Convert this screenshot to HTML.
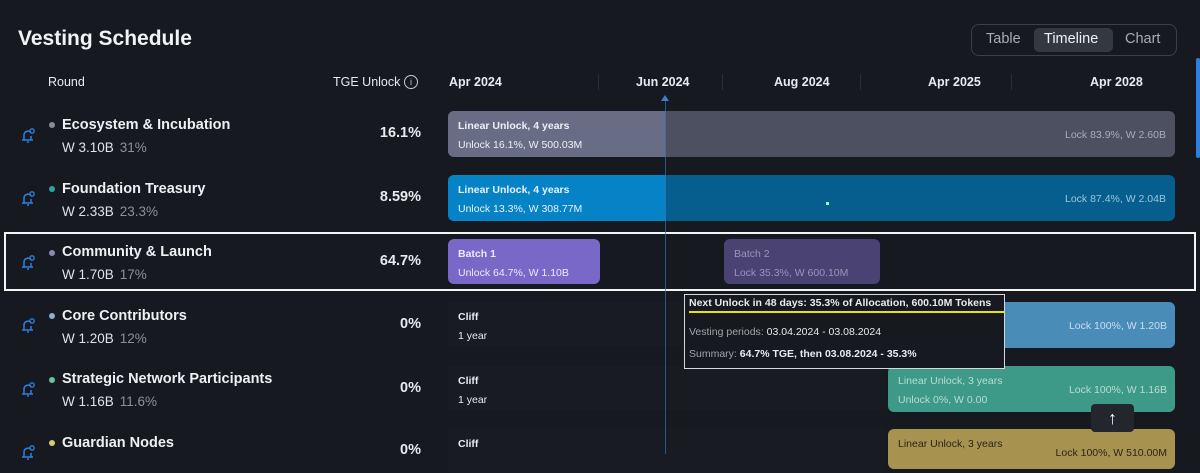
<!DOCTYPE html>
<html><head><meta charset="utf-8"><style>
*{margin:0;padding:0;box-sizing:border-box}
body{width:1200px;height:454px;background:#16191f;font-family:"Liberation Sans",sans-serif;color:#e8eaee;position:relative;overflow:hidden}
.a{position:absolute;white-space:nowrap}
.name{font-size:14.5px;font-weight:bold;color:#eef0f3}
.sub{font-size:13.5px;color:#e0e2e6}
.sub span{color:#8c9099;margin-left:6px}
.dot{width:6px;height:6px;border-radius:50%}
.pct{font-size:14.5px;font-weight:bold;text-align:right;width:80px}
.bar{position:absolute;border-radius:6px;font-size:10.5px;padding:6px 10px;line-height:19px}
.hd{font-size:12.5px;font-weight:bold;color:#e8eaee}
.bell{position:absolute;left:19px;width:18px;height:18px}
.cliff{position:absolute;left:448px;width:437px;height:44px;background:#181c22;border-radius:4px;font-size:10.5px;padding:6px 10px;line-height:19px;color:#e8eaee}
</style></head><body>
<div class="a" style="left:18px;top:27px;font-size:21px;font-weight:bold;color:#f2f3f5">Vesting Schedule</div>
<div class="a" style="left:971px;top:24px;width:206px;height:32px;border:1px solid #3a3e46;border-radius:8px"></div>
<div class="a" style="left:1034px;top:28px;width:79px;height:24px;background:#343840;border-radius:5px"></div>
<div class="a" style="left:986px;top:31px;font-size:14.5px;color:#a8acb4">Table</div>
<div class="a" style="left:1044px;top:31px;font-size:14.5px;color:#f0f1f3">Timeline</div>
<div class="a" style="left:1125px;top:31px;font-size:14.5px;color:#a8acb4">Chart</div>
<div class="a" style="left:1196px;top:58px;width:4px;height:100px;background:#2f7fe0;border-radius:2px"></div>

<div class="a hd" style="left:48px;top:75px;font-weight:normal">Round</div>
<div class="a hd" style="left:333px;top:75px;font-weight:normal">TGE Unlock</div>
<div class="a" style="left:404px;top:75px;width:14px;height:14px;border:1px solid #c8cad0;border-radius:50%;font-size:9px;text-align:center;line-height:12px;color:#c8cad0">i</div>
<div class="a hd" style="left:449px;top:75px">Apr 2024</div>
<div class="a hd" style="left:636px;top:75px">Jun 2024</div>
<div class="a hd" style="left:774px;top:75px">Aug 2024</div>
<div class="a hd" style="left:928px;top:75px">Apr 2025</div>
<div class="a hd" style="left:1090px;top:75px">Apr 2028</div>
<div class="a" style="left:598px;top:74px;width:1px;height:16px;background:#2a2e36"></div>
<div class="a" style="left:722px;top:74px;width:1px;height:16px;background:#2a2e36"></div>
<div class="a" style="left:860px;top:74px;width:1px;height:16px;background:#2a2e36"></div>
<div class="a" style="left:1011px;top:74px;width:1px;height:16px;background:#2a2e36"></div>

<div class="a dot" style="left:49px;top:122px;background:#888c96"></div>
<div class="a name" style="left:62px;top:117px">Ecosystem &amp; Incubation</div>
<div class="a sub" style="left:62px;top:140px">W 3.10B<span>31%</span></div>
<div class="a pct" style="left:341px;top:125px">16.1%</div>
<div class="a dot" style="left:49px;top:186px;background:#2aa6a0"></div>
<div class="a name" style="left:62px;top:181px">Foundation Treasury</div>
<div class="a sub" style="left:62px;top:204px">W 2.33B<span>23.3%</span></div>
<div class="a pct" style="left:341px;top:189px">8.59%</div>
<div class="a dot" style="left:49px;top:250px;background:#8f86b0"></div>
<div class="a name" style="left:62px;top:244px">Community &amp; Launch</div>
<div class="a sub" style="left:62px;top:267px">W 1.70B<span>17%</span></div>
<div class="a pct" style="left:341px;top:253px">64.7%</div>
<div class="a dot" style="left:49px;top:313px;background:#8ab0d0"></div>
<div class="a name" style="left:62px;top:308px">Core Contributors</div>
<div class="a sub" style="left:62px;top:331px">W 1.20B<span>12%</span></div>
<div class="a pct" style="left:341px;top:316px">0%</div>
<div class="a dot" style="left:49px;top:377px;background:#6cc0a0"></div>
<div class="a name" style="left:62px;top:371px">Strategic Network Participants</div>
<div class="a sub" style="left:62px;top:394px">W 1.16B<span>11.6%</span></div>
<div class="a pct" style="left:341px;top:380px">0%</div>
<div class="a dot" style="left:49px;top:440px;background:#d8c880"></div>
<div class="a name" style="left:62px;top:435px">Guardian Nodes</div>
<div class="a pct" style="left:341px;top:442px">0%</div>

<svg class="bell" style="top:126px" viewBox="0 0 18 18"><path d="M3 14h11M5 14V9a4 4 0 0 1 7-2.5M12 14V10M8 16h2" stroke="#2f7fe0" stroke-width="1.5" fill="none"/><circle cx="13" cy="5" r="2.2" stroke="#2f7fe0" fill="none" stroke-width="1.3"/></svg>
<svg class="bell" style="top:189px" viewBox="0 0 18 18"><path d="M3 14h11M5 14V9a4 4 0 0 1 7-2.5M12 14V10M8 16h2" stroke="#2f7fe0" stroke-width="1.5" fill="none"/><circle cx="13" cy="5" r="2.2" stroke="#2f7fe0" fill="none" stroke-width="1.3"/></svg>
<svg class="bell" style="top:253px" viewBox="0 0 18 18"><path d="M3 14h11M5 14V9a4 4 0 0 1 7-2.5M12 14V10M8 16h2" stroke="#2f7fe0" stroke-width="1.5" fill="none"/><circle cx="13" cy="5" r="2.2" stroke="#2f7fe0" fill="none" stroke-width="1.3"/></svg>
<svg class="bell" style="top:316px" viewBox="0 0 18 18"><path d="M3 14h11M5 14V9a4 4 0 0 1 7-2.5M12 14V10M8 16h2" stroke="#2f7fe0" stroke-width="1.5" fill="none"/><circle cx="13" cy="5" r="2.2" stroke="#2f7fe0" fill="none" stroke-width="1.3"/></svg>
<svg class="bell" style="top:380px" viewBox="0 0 18 18"><path d="M3 14h11M5 14V9a4 4 0 0 1 7-2.5M12 14V10M8 16h2" stroke="#2f7fe0" stroke-width="1.5" fill="none"/><circle cx="13" cy="5" r="2.2" stroke="#2f7fe0" fill="none" stroke-width="1.3"/></svg>
<svg class="bell" style="top:443px" viewBox="0 0 18 18"><path d="M3 14h11M5 14V9a4 4 0 0 1 7-2.5M12 14V10M8 16h2" stroke="#2f7fe0" stroke-width="1.5" fill="none"/><circle cx="13" cy="5" r="2.2" stroke="#2f7fe0" fill="none" stroke-width="1.3"/></svg>

<div class="a" style="left:448px;top:111px;width:727px;height:46px;background:#4c5061;border-radius:6px"></div>
<div class="bar" style="left:448px;top:111px;width:218px;height:46px;background:#686c84;border-radius:6px 0 0 6px;color:#eef0f6"><b>Linear Unlock, 4 years</b><br>Unlock 16.1%, W 500.03M</div>
<div class="a" style="left:1065px;top:129px;font-size:10.5px;color:#a8acb8">Lock 83.9%, W 2.60B</div>
<div class="a" style="left:448px;top:175px;width:727px;height:46px;background:#065e8e;border-radius:6px"></div>
<div class="bar" style="left:448px;top:175px;width:218px;height:46px;background:#0683c6;border-radius:6px 0 0 6px;color:#e8f2fa"><b>Linear Unlock, 4 years</b><br>Unlock 13.3%, W 308.77M</div>
<div class="a" style="left:1065px;top:193px;font-size:10.5px;color:#9cc4dc">Lock 87.4%, W 2.04B</div>
<div class="a" style="left:826px;top:202px;width:3px;height:3px;background:#8fe"></div>
<div class="bar" style="left:448px;top:239px;width:152px;height:45px;background:#7a68c8;color:#eeeaff"><b>Batch 1</b><br>Unlock 64.7%, W 1.10B</div>
<div class="bar" style="left:724px;top:239px;width:156px;height:45px;background:#4a4272;color:#9a94b8">Batch 2<br>Lock 35.3%, W 600.10M</div>
<div class="a" style="left:4px;top:232px;width:1192px;height:59px;border:2px solid #f4f4f4"></div>

<div class="cliff" style="top:302px"><b>Cliff</b><br>1 year</div>
<div class="bar" style="left:886px;top:302px;width:289px;height:46px;background:#4a8cb8;color:#c8def0"><span style="position:absolute;right:8px;top:15px">Lock 100%, W 1.20B</span></div>
<div class="cliff" style="top:366px"><b>Cliff</b><br>1 year</div>
<div class="bar" style="left:888px;top:366px;width:287px;height:46px;background:#3e9a88;color:#b8dcd2">Linear Unlock, 3 years<br>Unlock 0%, W 0.00<span style="position:absolute;right:8px;top:15px">Lock 100%, W 1.16B</span></div>
<div class="cliff" style="top:429px"><b>Cliff</b></div>
<div class="bar" style="left:888px;top:429px;width:287px;height:40px;background:#a89250;color:#2a2418">Linear Unlock, 3 years<span style="position:absolute;right:8px;top:15px">Lock 100%, W 510.00M</span></div>
<div class="a" style="left:665px;top:98px;width:1px;height:356px;background:#2f6fb0;opacity:.7"></div>
<div class="a" style="left:661px;top:95px;width:0;height:0;border-left:4px solid transparent;border-right:4px solid transparent;border-bottom:6px solid #3a80d0"></div>

<div class="a" style="left:1091px;top:404px;width:43px;height:28px;background:#23262c;border-radius:4px;color:#fff;font-size:18px;text-align:center;line-height:28px">↑</div>

<div class="a" style="left:684px;top:294px;width:321px;height:75px;background:#16191f;border:1px solid #d8d8d8;font-size:10.5px;color:#e8eaee">
<div class="a" style="left:4px;top:2px;font-weight:bold">Next Unlock in 48 days: 35.3% of Allocation, 600.10M Tokens</div>
<div class="a" style="left:4px;top:16px;width:315px;height:2px;background:#e8e600"></div>
<div class="a" style="left:4px;top:31px"><span style="color:#a0a4ac">Vesting periods:</span> 03.04.2024 - 03.08.2024</div>
<div class="a" style="left:4px;top:53px"><span style="color:#a0a4ac">Summary:</span> <b>64.7% TGE, then 03.08.2024 - 35.3%</b></div>
</div>
</body></html>
